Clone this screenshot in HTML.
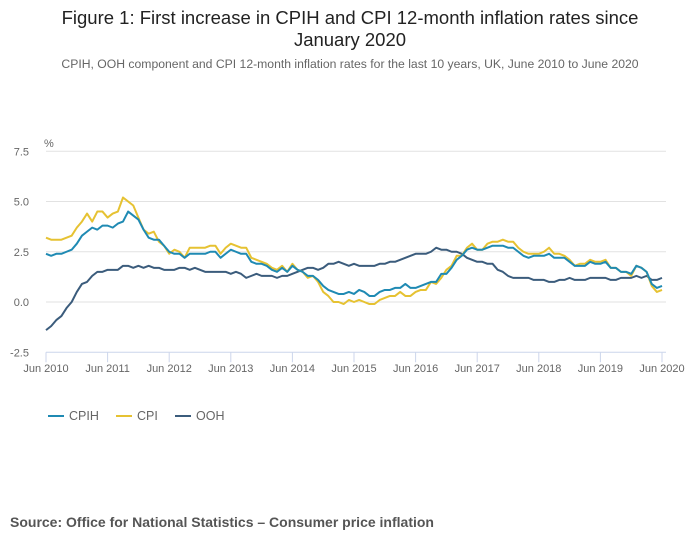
<!DOCTYPE html>
<html><head><meta charset="utf-8"><style>
body{margin:0;width:700px;height:549px;background:#fff;font-family:"Liberation Sans",sans-serif;overflow:hidden;position:relative}
.t{position:absolute;left:0;width:700px;text-align:center;color:#222;font-size:18.5px;line-height:22px;top:7px}
.s{position:absolute;left:0;width:700px;text-align:center;color:#666;font-size:12.2px;top:57px}
.src{position:absolute;left:10px;top:514px;font-size:14px;font-weight:bold;color:#555}
</style></head><body>
<div class="t">Figure 1: First increase in CPIH and CPI 12-month inflation rates since<br>January 2020</div>
<div class="s">CPIH, OOH component and CPI 12-month inflation rates for the last 10 years, UK, June 2010 to June 2020</div>
<svg id="c" width="700" height="549" style="position:absolute;left:0;top:0"></svg>
<div class="src">Source: Office for National Statistics – Consumer price inflation</div>
<script>
const cpih=[2.4,2.3,2.4,2.4,2.5,2.6,2.9,
3.3,3.5,3.7,3.6,3.8,3.8,3.7,3.9,4.0,4.5,4.3,4.1,
3.6,3.2,3.1,3.1,2.8,2.5,2.4,2.4,2.2,2.4,2.4,2.4,
2.4,2.5,2.5,2.2,2.4,2.6,2.5,2.4,2.4,2.0,1.9,1.9,
1.8,1.6,1.5,1.7,1.5,1.8,1.6,1.5,1.3,1.3,1.1,0.8,
0.6,0.5,0.4,0.4,0.5,0.4,0.6,0.5,0.3,0.3,0.5,0.6,
0.6,0.7,0.7,0.9,0.7,0.7,0.8,0.9,1.0,1.0,1.4,1.4,
1.7,2.1,2.3,2.6,2.7,2.6,2.6,2.7,2.8,2.8,2.8,2.7,
2.7,2.5,2.3,2.2,2.3,2.3,2.3,2.4,2.2,2.2,2.2,2.0,
1.8,1.8,1.8,2.0,1.9,1.9,2.0,1.7,1.7,1.5,1.5,1.4,
1.8,1.7,1.5,0.9,0.7,0.8];
const cpi=[3.2,3.1,3.1,3.1,3.2,3.3,3.7,
4.0,4.4,4.0,4.5,4.5,4.2,4.4,4.5,5.2,5.0,4.8,4.2,
3.6,3.4,3.5,3.0,2.8,2.4,2.6,2.5,2.2,2.7,2.7,2.7,
2.7,2.8,2.8,2.4,2.7,2.9,2.8,2.7,2.7,2.2,2.1,2.0,
1.9,1.7,1.6,1.8,1.5,1.9,1.6,1.5,1.2,1.3,1.0,0.5,
0.3,0.0,0.0,-0.1,0.1,0.0,0.1,0.0,-0.1,-0.1,0.1,0.2,
0.3,0.3,0.5,0.3,0.3,0.5,0.6,0.6,1.0,0.9,1.2,1.6,
1.8,2.3,2.3,2.7,2.9,2.6,2.6,2.9,3.0,3.0,3.1,3.0,
3.0,2.7,2.5,2.4,2.4,2.4,2.5,2.7,2.4,2.4,2.3,2.1,
1.8,1.9,1.9,2.1,2.0,2.0,2.1,1.7,1.7,1.5,1.5,1.3,
1.8,1.7,1.5,0.8,0.5,0.6];
const ooh=[-1.4,-1.2,-0.9,-0.7,-0.3,0.0,0.5,
0.9,1.0,1.3,1.5,1.5,1.6,1.6,1.6,1.8,1.8,1.7,1.8,
1.7,1.8,1.7,1.7,1.6,1.6,1.6,1.7,1.7,1.6,1.7,1.6,
1.5,1.5,1.5,1.5,1.5,1.4,1.5,1.4,1.2,1.3,1.4,1.3,
1.3,1.3,1.2,1.3,1.3,1.4,1.5,1.6,1.7,1.7,1.6,1.7,
1.9,1.9,2.0,1.9,1.8,1.9,1.8,1.8,1.8,1.8,1.9,1.9,
2.0,2.0,2.1,2.2,2.3,2.4,2.4,2.4,2.5,2.7,2.6,2.6,
2.5,2.5,2.4,2.2,2.1,2.0,2.0,1.9,1.9,1.6,1.5,1.3,
1.2,1.2,1.2,1.2,1.1,1.1,1.1,1.0,1.0,1.1,1.1,1.2,
1.1,1.1,1.1,1.2,1.2,1.2,1.2,1.1,1.1,1.2,1.2,1.2,
1.3,1.2,1.3,1.1,1.1,1.2];
const yTicks=[7.5,5.0,2.5,0.0,-2.5];
const xLabels=["Jun 2010","Jun 2011","Jun 2012","Jun 2013","Jun 2014","Jun 2015","Jun 2016","Jun 2017","Jun 2018","Jun 2019","Jun 2020"];
const NS="http://www.w3.org/2000/svg",svg=document.getElementById('c');
const x0=46,x1=662,y0=302,py=20.1;
const X=i=>x0+i*(x1-x0)/120, Y=v=>y0-v*py;
function mk(t,a){const e=document.createElementNS(NS,t);for(const k in a)e.setAttribute(k,a[k]);svg.appendChild(e);return e;}
yTicks.forEach(v=>{
 if(v!==-2.5){const g=mk('line',{x1:x0,x2:x1+4,y1:Y(v),y2:Y(v),stroke:'#e2e2e2','stroke-width':1});
 
 }
 const t=mk('text',{x:29,y:Y(v)+4,'font-size':11,fill:'#666','text-anchor':'end'});t.textContent=v.toFixed(1);
 
 
});
const ax=mk('line',{x1:x0,x2:x1+4,y1:Y(-2.5),y2:Y(-2.5),stroke:'#ccd6eb'});


const pc=mk('text',{x:44,y:147,'font-size':11,fill:'#666'});pc.textContent='%';


xLabels.forEach((l,k)=>{
 const xx=X(k*12);
 const tk=mk('line',{x1:xx,x2:xx,y1:Y(-2.5),y2:Y(-2.5)+10,stroke:'#ccd6eb'});
 
 
 const t=mk('text',{x:xx,y:372,'font-size':11,fill:'#666','text-anchor':'middle'});t.textContent=l;
 
 
});
[[ooh,'#3b5c7c','ooh-line'],[cpi,'#e6c232','cpi-line'],[cpih,'#1f8ab3','cpih-line']].forEach(([d,c,n])=>{
 const p=mk('polyline',{points:d.map((v,i)=>X(i)+','+Y(v)).join(' '),fill:'none',stroke:c,'stroke-width':2,'stroke-linejoin':'round'});
 
 
});
[['CPIH','#1f8ab3',48],['CPI','#e6c232',116],['OOH','#3b5c7c',175]].forEach(([l,c,x])=>{
 const g=mk('line',{x1:x,x2:x+16,y1:416,y2:416,stroke:c,'stroke-width':2});
 
 
 const t=mk('text',{x:x+21,y:420,'font-size':12.5,fill:'#666'});t.textContent=l;
 
 
});
</script>
</body></html>
